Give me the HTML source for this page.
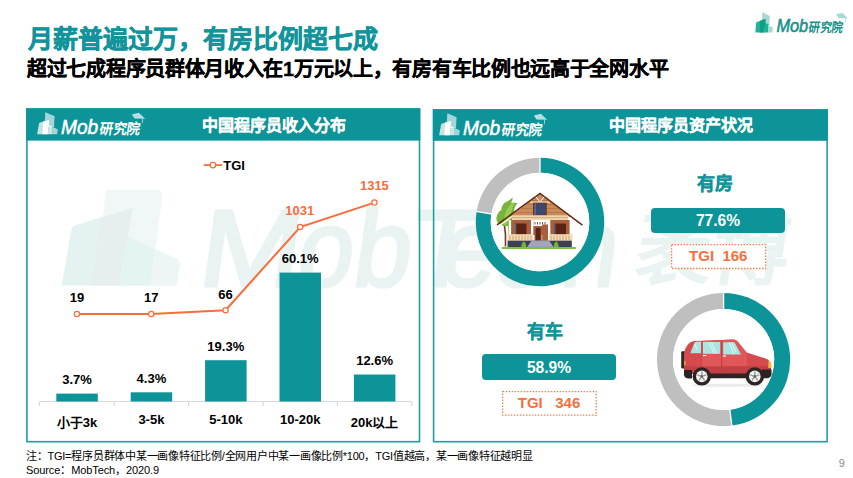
<!DOCTYPE html>
<html lang="zh-CN">
<head>
<meta charset="utf-8">
<style>
*{margin:0;padding:0;box-sizing:border-box;}
html,body{width:853px;height:478px;overflow:hidden;background:#fff;}
body{position:relative;font-family:"Liberation Sans",sans-serif;color:#000;}
.abs{position:absolute;white-space:nowrap;}
#title{left:28px;top:24px;font-size:25px;font-weight:bold;-webkit-text-stroke:0.5px #11949b;color:#11949b;line-height:30px;}
#sub{left:27px;top:56.8px;font-size:20px;letter-spacing:-0.3px;-webkit-text-stroke:0.35px #000;font-weight:bold;color:#000;line-height:24px;}
.ptitle{position:absolute;top:116px;font-size:16px;font-weight:bold;color:#fff;line-height:20px;-webkit-text-stroke:0.25px #fff;}
.lbl{position:absolute;font-size:13px;font-weight:bold;line-height:16px;white-space:nowrap;transform:translateX(-50%);}
.foot{position:absolute;left:26px;font-size:11px;letter-spacing:-0.25px;color:#000;line-height:13px;white-space:nowrap;}
.tealbox{position:absolute;background:#0d9499;border-radius:4px;color:#fff;font-weight:bold;font-size:15.6px;text-align:center;}
.tgibox{position:absolute;color:#f5703a;font-weight:bold;font-size:15px;text-align:center;}
.h2{position:absolute;color:#11949b;font-weight:bold;font-size:18px;line-height:22px;white-space:nowrap;-webkit-text-stroke:0.35px #11949b;}
</style>
</head>
<body>

<!-- watermark -->
<svg class="abs" style="left:0;top:0" width="853" height="478" viewBox="0 0 853 478">
  <g>
    <path d="M106,189.8 L156.7,189.8 Q162.5,190 162.2,198.2 L150,285.6 L95,285.6 Z" fill="#f1f7f6"/>
    <path d="M71.3,229.8 Q72,226.5 76,225 L132.5,208 L119.3,285.6 L61.8,285.6 Z" fill="#e4f3f2"/>
    <path d="M100.6,218.5 L132.5,208 L119.3,285.6 L90.8,285.6 Z" fill="#e6efee"/>
    <path d="M127.6,236.6 L176,258.5 Q180,260.5 179.8,264 L176.5,285.6 L119.3,285.6 Z" fill="#e4f4f3"/>
    <path d="M155.1,248.9 L176,258.5 Q180,260.5 179.8,264 L176.5,285.6 L150,285.6 Z" fill="#eef6f5"/>
  </g>
  <g font-family="Liberation Sans" font-weight="normal" font-size="109" fill="#e8f3f2" stroke="#e8f3f2" stroke-width="3" text-anchor="middle">
    <text x="0" y="0" transform="translate(246.5,286) skewX(-8) scale(1.12,1)">M</text>
    <text x="0" y="0" transform="translate(322,286) skewX(-8) scale(0.92,1)">o</text>
    <text x="0" y="0" transform="translate(379,286) skewX(-8) scale(0.95,1)">b</text>
    <text x="0" y="0" transform="translate(440,286) skewX(-8) scale(1.0,1)">T</text>
    <text x="0" y="0" transform="translate(465,286) skewX(-8) scale(0.92,1)">e</text>
    <text x="0" y="0" transform="translate(517,286) skewX(-8) scale(0.95,1)">c</text>
    <text x="0" y="0" transform="translate(586,286) skewX(-8) scale(0.92,1)">h</text>
  </g>
  <text x="0" y="0" transform="translate(633,277.7) skewX(-8)" font-weight="bold" font-size="80" fill="#e8f3f2" textLength="152" lengthAdjust="spacingAndGlyphs">袤博</text>
</svg>

<!-- top title -->
<div id="title" class="abs">月薪普遍过万，有房比例超七成</div>
<div id="sub" class="abs">超过七成程序员群体月收入在1万元以上，有房有车比例也远高于全网水平</div>

<!-- top right logo -->
<svg class="abs" style="left:752px;top:10px" width="100" height="26" viewBox="0 0 100 26">
  <path d="M10.3,2 L17.8,6 L17.3,15 L10,15 Z" fill="#a6d9d3"/>
  <path d="M4.3,12.3 L13.6,9 L12.3,22.6 L3.3,22.6 Z" fill="#1bb594"/>
  <path d="M8.3,10.6 L13.6,9 L12.3,22.6 L7.8,22.6 Z" fill="#149c86"/>
  <path d="M13,13 L16.6,14 L16.3,22.6 L12.4,22.6 Z" fill="#1bb594"/>
  <path d="M16.6,15.6 L20.8,17.6 L20.6,22.6 L16.3,22.6 Z" fill="#a6d9d3"/>
  <text x="24.4" y="22.3" font-family="Liberation Sans" font-style="italic" font-size="18.5" fill="#13928a" stroke="#13928a" stroke-width="0.6" textLength="31.8" lengthAdjust="spacingAndGlyphs">Mob</text>
  <text x="0" y="0" transform="translate(56.3,21.6) skewX(-8)" font-size="13" font-weight="bold" fill="#13928a" textLength="33.8" lengthAdjust="spacingAndGlyphs">研究院</text>
  <path d="M84,4.3 L90.7,3 L95.8,8.5 L86.6,8 Z" fill="#a6d9d3"/><path d="M93.5,8.5 V12" stroke="#a6d9d3" stroke-width="0.8"/>
</svg>

<!-- left panel -->
<svg class="abs" style="left:0;top:0" width="853" height="478" viewBox="0 0 853 478">
  <rect x="26.9" y="109.1" width="392.6" height="332.6" fill="none" stroke="#1d9fa3" stroke-width="1.6"/>
  <rect x="433.6" y="110" width="393.5" height="331.7" fill="none" stroke="#1d9fa3" stroke-width="1.6"/>
  <rect x="26.1" y="108.3" width="394.2" height="32.3" fill="#0d9499"/>
  <rect x="432.8" y="109.2" width="395.1" height="31.6" fill="#0d9499"/>
</svg>
<!-- right panel -->


<!-- header logos (white) -->
<svg class="abs" style="left:34px;top:110px" width="120" height="28" viewBox="0 0 120 28">
  <path d="M11.3,2.3 L20.6,6.2 L20,17 L10.5,17 Z" fill="#fff" fill-opacity="0.62"/>
  <path d="M5.1,13.6 Q5.5,12.8 7,12.3 L15,10.2 L13.6,24.3 L3.1,24.3 Z" fill="#fff" fill-opacity="0.75"/>
  <path d="M9.2,11.3 L15,10.2 L13.6,24.3 L8.4,24.3 Z" fill="#fff"/>
  <path d="M14.6,15 L18.6,16.8 L18.2,24.3 L13.7,24.3 Z" fill="#fff" fill-opacity="0.78"/>
  <path d="M18.6,17 L23.7,19.2 L23.2,24.3 L18.2,24.3 Z" fill="#fff" fill-opacity="0.62"/>
  <text x="27" y="24.4" font-family="Liberation Sans" font-style="italic" font-size="21" fill="#fff" stroke="#fff" stroke-width="0.55" textLength="37.2" lengthAdjust="spacingAndGlyphs">Mob</text>
  <text x="0" y="0" transform="translate(64.8,23.9) skewX(-8)" font-size="14.5" font-weight="bold" fill="#fff" textLength="41.5" lengthAdjust="spacingAndGlyphs">研究院</text>
  <path d="M97.8,4.6 L104.8,2.8 L111.2,8.8 L100.5,8.4 Z" fill="#fff" fill-opacity="0.7"/>
  <path d="M108.5,8.8 L108.5,13" stroke="#fff" stroke-opacity="0.7" stroke-width="0.8"/>
</svg>
<svg class="abs" style="left:435.5px;top:110.5px" width="120" height="28" viewBox="0 0 120 28">
  <path d="M11.3,2.3 L20.6,6.2 L20,17 L10.5,17 Z" fill="#fff" fill-opacity="0.62"/>
  <path d="M5.1,13.6 Q5.5,12.8 7,12.3 L15,10.2 L13.6,24.3 L3.1,24.3 Z" fill="#fff" fill-opacity="0.75"/>
  <path d="M9.2,11.3 L15,10.2 L13.6,24.3 L8.4,24.3 Z" fill="#fff"/>
  <path d="M14.6,15 L18.6,16.8 L18.2,24.3 L13.7,24.3 Z" fill="#fff" fill-opacity="0.78"/>
  <path d="M18.6,17 L23.7,19.2 L23.2,24.3 L18.2,24.3 Z" fill="#fff" fill-opacity="0.62"/>
  <text x="27" y="24.4" font-family="Liberation Sans" font-style="italic" font-size="21" fill="#fff" stroke="#fff" stroke-width="0.55" textLength="37.2" lengthAdjust="spacingAndGlyphs">Mob</text>
  <text x="0" y="0" transform="translate(64.8,23.9) skewX(-8)" font-size="14.5" font-weight="bold" fill="#fff" textLength="41.5" lengthAdjust="spacingAndGlyphs">研究院</text>
  <path d="M97.8,4.6 L104.8,2.8 L111.2,8.8 L100.5,8.4 Z" fill="#fff" fill-opacity="0.7"/>
  <path d="M108.5,8.8 L108.5,13" stroke="#fff" stroke-opacity="0.7" stroke-width="0.8"/>
</svg>

<div class="ptitle abs" style="left:202px;">中国程序员收入分布</div>
<div class="ptitle abs" style="left:608.5px;">中国程序员资产状况</div>

<!-- left chart -->
<svg class="abs" style="left:0;top:0" width="853" height="478" viewBox="0 0 853 478">
  <!-- axis -->
  <g stroke="#d9d9d9" stroke-width="1.2" fill="none">
    <path d="M39.5,401.5 H412"/>
    <path d="M39.5,401.5 V406 M114.2,401.5 V406 M188.6,401.5 V406 M263,401.5 V406 M337.4,401.5 V406 M411.8,401.5 V406"/>
  </g>
  <!-- bars -->
  <g fill="#0d9499">
    <rect x="56.3" y="393.6" width="41.5" height="7.9"/>
    <rect x="130.7" y="392.3" width="41.5" height="9.2"/>
    <rect x="205.1" y="360.2" width="41.5" height="41.3"/>
    <rect x="279.5" y="272.6" width="41.5" height="128.9"/>
    <rect x="353.9" y="374.5" width="41.5" height="27"/>
  </g>
  <!-- line -->
  <polyline points="76.9,314 151.2,314 225.6,310.2 300.2,227 374.4,202.6" fill="none" stroke="#f86d3a" stroke-width="2"/>
  <g fill="#fff" stroke="#f86d3a" stroke-width="1.2">
    <circle cx="76.9" cy="314" r="2.65"/>
    <circle cx="151.2" cy="314" r="2.65"/>
    <circle cx="225.6" cy="310.2" r="2.65"/>
    <circle cx="300.2" cy="227" r="2.65"/>
    <circle cx="374.4" cy="202.6" r="2.65"/>
  </g>
  <!-- legend -->
  <path d="M203.8,165.1 H222.3" stroke="#f86d3a" stroke-width="1.8"/>
  <circle cx="212.9" cy="165.1" r="2.8" fill="#fff" stroke="#f86d3a" stroke-width="1.3"/>
</svg>

<div class="lbl" style="left:223.2px;top:158px;transform:none;">TGI</div>

<div class="lbl" style="left:77px;top:290px;">19</div>
<div class="lbl" style="left:151.2px;top:290px;">17</div>
<div class="lbl" style="left:225.6px;top:286.5px;">66</div>
<div class="lbl" style="left:299.7px;top:203px;color:#f86d3a;">1031</div>
<div class="lbl" style="left:374.4px;top:178px;color:#f86d3a;">1315</div>

<div class="lbl" style="left:77px;top:372px;">3.7%</div>
<div class="lbl" style="left:151.4px;top:370.5px;">4.3%</div>
<div class="lbl" style="left:225.8px;top:338.5px;">19.3%</div>
<div class="lbl" style="left:300.2px;top:251px;">60.1%</div>
<div class="lbl" style="left:374.6px;top:353px;">12.6%</div>

<div class="lbl" style="left:77px;top:414.5px;">小于3k</div>
<div class="lbl" style="left:151.4px;top:412px;">3-5k</div>
<div class="lbl" style="left:225.8px;top:412px;">5-10k</div>
<div class="lbl" style="left:300.2px;top:412px;">10-20k</div>
<div class="lbl" style="left:374.6px;top:414.5px;">20k以上</div>

<!-- right panel contents -->
<svg class="abs" style="left:0;top:0" width="853" height="478" viewBox="0 0 853 478">
  <!-- donut 1 -->
  <path d="M540,157.75 A64.25,64.25 0 1 1 476.61,211.51 L491.41,213.96 A49.25,49.25 0 1 0 540,172.75 Z" fill="#0d9499"/>
  <path d="M476.61,211.51 A64.25,64.25 0 0 1 540,157.75 L540,172.75 A49.25,49.25 0 0 0 491.41,213.96 Z" fill="#bfbfbf"/>
  <path d="M540,157 V173.5 M475.8,211.4 L492.2,214.1" stroke="#fff" stroke-width="1.3"/>
  <!-- donut 2 -->
  <path d="M723.6,292.9 A66.6,66.6 0 0 1 731.83,425.59 L729.85,409.71 A50.6,50.6 0 0 0 723.6,308.9 Z" fill="#0d9499"/>
  <path d="M731.83,425.59 A66.6,66.6 0 1 1 723.6,292.9 L723.6,308.9 A50.6,50.6 0 1 0 729.85,409.71 Z" fill="#bfbfbf"/>
  <path d="M723.6,292 V309.7 M731.95,426.5 L729.75,408.9" stroke="#fff" stroke-width="1.3"/>
</svg>


<!-- house -->
<svg class="abs" style="left:0;top:0" width="853" height="478" viewBox="0 0 853 478">
  <circle cx="540" cy="222" r="49.3" fill="#fff"/>
  <circle cx="723.6" cy="359.5" r="50.6" fill="#fff"/>
  <!-- tree -->
  <path d="M509,226 L509.5,236" stroke="#7cb83f" stroke-width="2"/>
  <path d="M505.5,246.5 Q506.2,234 504,222" stroke="#7a3b22" stroke-width="1.6" fill="none"/>
  <path d="M505,226 C500,226 496,222 496.4,218 C496.8,214 499,211 501.5,210 C501,207 503,203 507,201.5 C509,200.5 511,199 512.7,197.6 C512.5,200 511.8,201.5 511,203 C513.5,202.5 516,202.8 517.7,203.3 C515,205.5 514.5,208 514,211 C513.5,216 512.5,221 510.8,225.9 Z" fill="#78b33e"/>
  <path d="M503.5,224 C503.5,218 505.5,212 508,207.5 C510,204.5 512,203 514.5,203 C512.5,207 511.5,211 510.5,216 C509.5,220 507.5,223 505.5,225 Z" fill="#9bcb52"/>
  <!-- gable -->
  <path d="M540,194 L509,217 L571,217 Z" fill="#c98a59"/>
  <g stroke="#ad6c42" stroke-width="0.6">
    <path d="M532,200.5 H548 M527,204.5 H553 M521.5,208.5 H558.5 M516,212.5 H564"/>
  </g>
  <path d="M530,202.2 H550" stroke="#f0dcc0" stroke-width="1.3"/>
  <!-- attic window -->
  <rect x="533" y="202.7" width="13.8" height="12.8" fill="#6e3219"/>
  <rect x="534.6" y="203.5" width="11.2" height="11.2" fill="#3b4a72"/>
  <rect x="534.6" y="203.5" width="0.9" height="11.2" fill="#6d8cc0"/>
  <path d="M534.6,207.7 H545.8 M538,203.5 V207.7 M541.5,203.5 V207.7" stroke="#5a3a3a" stroke-width="0.5"/>
  <!-- roof -->
  <path d="M497,224.8 L540,193.4 L582.4,225.2" fill="none" stroke="#63290f" stroke-width="1.5"/>
  <path d="M498.5,226.3 L512,216.6 M567.5,216.6 L581,226.5" fill="none" stroke="#fff" stroke-width="1.2"/>
  <path d="M536,196.8 L539.6,201.6 M544,196.8 L540.4,201.6" fill="none" stroke="#fff" stroke-width="1"/>
  <!-- cream band -->
  <rect x="512" y="215.3" width="56" height="4.8" fill="#efd5ae"/>
  <path d="M512,217.6 H568" stroke="#c99466" stroke-width="0.7"/>
  <!-- walls -->
  <rect x="510.5" y="220" width="60" height="15" fill="#a85f3d"/>
  <!-- pillars -->
  <g fill="#fff">
    <rect x="508.8" y="220" width="2.3" height="21"/>
    <rect x="531" y="220" width="2.3" height="21"/>
    <rect x="548" y="220" width="2.3" height="21"/>
    <rect x="569.6" y="220" width="2.3" height="21"/>
  </g>
  <!-- windows -->
  <rect x="515" y="223.5" width="11.5" height="11.5" fill="#5c2312"/>
  <rect x="515" y="223.5" width="1.2" height="11.5" fill="#506a92"/>
  <rect x="554.3" y="223.5" width="11.7" height="11.5" fill="#5c2312"/>
  <rect x="554.3" y="223.5" width="1.2" height="11.5" fill="#506a92"/>
  <!-- door area -->
  <rect x="533.3" y="220" width="14.7" height="6" fill="#fff"/>
  <g fill="#8a4b2a"><rect x="534.5" y="222" width="1" height="2.5"/><rect x="537" y="222" width="1" height="2.5"/><rect x="539.5" y="222" width="1" height="2.5"/><rect x="542" y="222" width="1" height="2.5"/><rect x="544.5" y="222" width="1" height="2.5"/></g>
  <rect x="534.5" y="226.5" width="7.2" height="14.2" fill="#a85f3d"/>
  <rect x="535.6" y="227.8" width="5" height="12.9" fill="#5a2414"/>
  <rect x="542.2" y="224.5" width="5.8" height="16.2" fill="#a85f3d"/>
  <!-- railings -->
  <rect x="507.6" y="234.2" width="25.3" height="6.4" fill="#f3dcb6"/>
  <rect x="549.1" y="234.2" width="23.4" height="6.4" fill="#f3dcb6"/>
  <g stroke="#c99466" stroke-width="0.8">
    <path d="M510,235.5 V240 M513,235.5 V240 M516,235.5 V240 M519,235.5 V240 M522,235.5 V240 M525,235.5 V240 M528,235.5 V240 M531,235.5 V240"/>
    <path d="M551,235.5 V240 M554,235.5 V240 M557,235.5 V240 M560,235.5 V240 M563,235.5 V240 M566,235.5 V240 M569,235.5 V240"/>
  </g>
  <!-- foundation -->
  <rect x="507.6" y="240.6" width="64.2" height="6.6" fill="#3e3f52"/>
  <path d="M531.6,240.6 L549.1,240.6 L553.7,247.2 L527,247.2 Z" fill="#9c9cbb"/>
  <path d="M530.5,242.8 H550.3 M529,245 H552" stroke="#b8b8d2" stroke-width="0.6"/>
  <!-- bushes -->
  <path d="M521.3,247.2 Q521.5,242.5 523.8,241.5 Q526.1,242.5 526.3,247.2 Z" fill="#6fb33b"/>
  <path d="M553.7,247.2 Q553.9,242.5 556.2,241.5 Q558.5,242.5 558.7,247.2 Z" fill="#6fb33b"/>
  <!-- grass -->
  <rect x="501.8" y="247" width="74" height="2" fill="#7cc242"/>
</svg>

<!-- car -->
<svg class="abs" style="left:0;top:0" width="853" height="478" viewBox="0 0 853 478">
  <ellipse cx="727" cy="385.3" rx="36" ry="1.6" fill="#ebebeb"/>
  <!-- spare tire -->
  <rect x="681.2" y="351.3" width="5.8" height="17.2" rx="1.2" fill="#332626"/>
  <!-- body -->
  <path d="M684,373 L684,354 Q684.5,348.5 687.5,345 Q690,341.5 694.5,341 L733,339.6 Q736,339.6 738,342 L746.5,352.6 L765.5,358.4 Q770.5,360.2 771,365 L771,373 Z" fill="#d64a4e"/>
  <path d="M701.5,341.2 L733,339.6 Q736,339.6 738,342 L746.5,352.6 L747.5,367 L702,367.5 Z" fill="#e05659"/>
  <path d="M684,366.5 L771,366 L771,374 L684,374 Z" fill="#c23f44"/>
  <!-- windows -->
  <path d="M690.3,353.2 L694.3,343 Q695,341.8 697,341.8 L701,341.6 L701,353.2 Z" fill="#a9e6e1"/>
  <path d="M703,342 L720.2,342 L720.2,353.8 L703,353.8 Z" fill="#a9e6e1"/>
  <path d="M723.2,342.2 L734.5,342.2 L741,354.4 L723.2,354.4 Z" fill="#a9e6e1"/>
  <g stroke="#e6f8f6" stroke-width="0.9">
    <path d="M709,342 L714,353.8 M711.5,342 L716.5,353.8 M729,342.2 L734,354.4 M731.5,342.2 L736,352 M695,344 L697,350"/>
  </g>
  <path d="M721.7,341 V372" stroke="#b83a40" stroke-width="0.9"/>
  <path d="M701.8,341.5 V367" stroke="#c94348" stroke-width="0.6"/>
  <rect x="703" y="355" width="3.2" height="1.1" fill="#fff"/>
  <rect x="722.8" y="355.5" width="3.2" height="1.1" fill="#fff"/>
  <!-- bumpers -->
  <path d="M684,370 L692,370 L692,378.5 L688,378.5 Q684.5,378 684,375 Z" fill="#2d2322"/>
  <path d="M700,373.5 L760,373.5 L760,378.3 L700,378.3 Z" fill="#2d2322"/>
  <path d="M762,369.5 L771.5,369.5 L771.5,375 Q770.5,378 767,378.3 L762,378.3 Z" fill="#2d2322"/>
  <!-- lights -->
  <path d="M768.5,360.5 Q771.5,362 771.5,365 L771.5,368 L768.3,368 Z" fill="#f5b93d"/>
  <rect x="684" y="361" width="1.6" height="4" fill="#e8a23a"/>
  <!-- wheel arches -->
  <circle cx="701.8" cy="376.4" r="9.2" fill="#2d2322"/>
  <circle cx="754.8" cy="376.4" r="9.2" fill="#2d2322"/>
  <!-- wheels -->
  <circle cx="701.8" cy="376.4" r="5.8" fill="#f2f2f2"/>
  <circle cx="754.8" cy="376.4" r="5.8" fill="#f2f2f2"/>
  <g stroke="#9a9a9a" stroke-width="1.4">
    <path d="M701.8,376.4 L701.8,371.5 M701.8,376.4 L706.4,374.9 M701.8,376.4 L704.6,380.4 M701.8,376.4 L699,380.4 M701.8,376.4 L697.2,374.9"/>
    <path d="M754.8,376.4 L754.8,371.5 M754.8,376.4 L759.4,374.9 M754.8,376.4 L757.6,380.4 M754.8,376.4 L752,380.4 M754.8,376.4 L750.2,374.9"/>
  </g>
  <circle cx="701.8" cy="376.4" r="1.3" fill="#666"/>
  <circle cx="754.8" cy="376.4" r="1.3" fill="#666"/>
</svg>

<div class="h2" style="left:697px;top:172.8px;">有房</div>
<div class="tealbox" style="left:651px;top:207.8px;width:134px;height:25.7px;line-height:26.6px;">77.6%</div>
<svg class="abs" style="left:670px;top:243px" width="97" height="27"><rect x="1.6" y="1.6" width="94" height="23.9" fill="#fff" stroke="#f5804e" stroke-width="1.3" stroke-dasharray="1.5 1.5"/></svg>
<div class="tgibox" style="left:671px;top:244px;width:94.5px;height:24.8px;line-height:24px;">TGI&nbsp;&nbsp;166</div>

<div class="h2" style="left:526.5px;top:320.5px;">有车</div>
<div class="tealbox" style="left:482px;top:354.4px;width:134px;height:25.8px;line-height:27.8px;">58.9%</div>
<svg class="abs" style="left:500.8px;top:390px" width="97" height="27"><rect x="1.6" y="1.6" width="93.6" height="23.6" fill="#fff" stroke="#f5804e" stroke-width="1.3" stroke-dasharray="1.5 1.5"/></svg>
<div class="tgibox" style="left:501.8px;top:391px;width:94.5px;height:24.5px;line-height:24px;">TGI&nbsp;&nbsp;&nbsp;346</div>

<!-- footer -->
<div class="foot" style="top:449.5px;">注：TGI=程序员群体中某一画像特征比例/全网用户中某一画像比例*100，TGI值越高，某一画像特征越明显</div>
<div class="foot" style="top:464px;letter-spacing:-0.1px;">Source：MobTech，2020.9</div>
<div class="abs" style="left:838.7px;top:456.8px;font-size:11px;color:#8c8c8c;line-height:13px;">9</div>

</body>
</html>
